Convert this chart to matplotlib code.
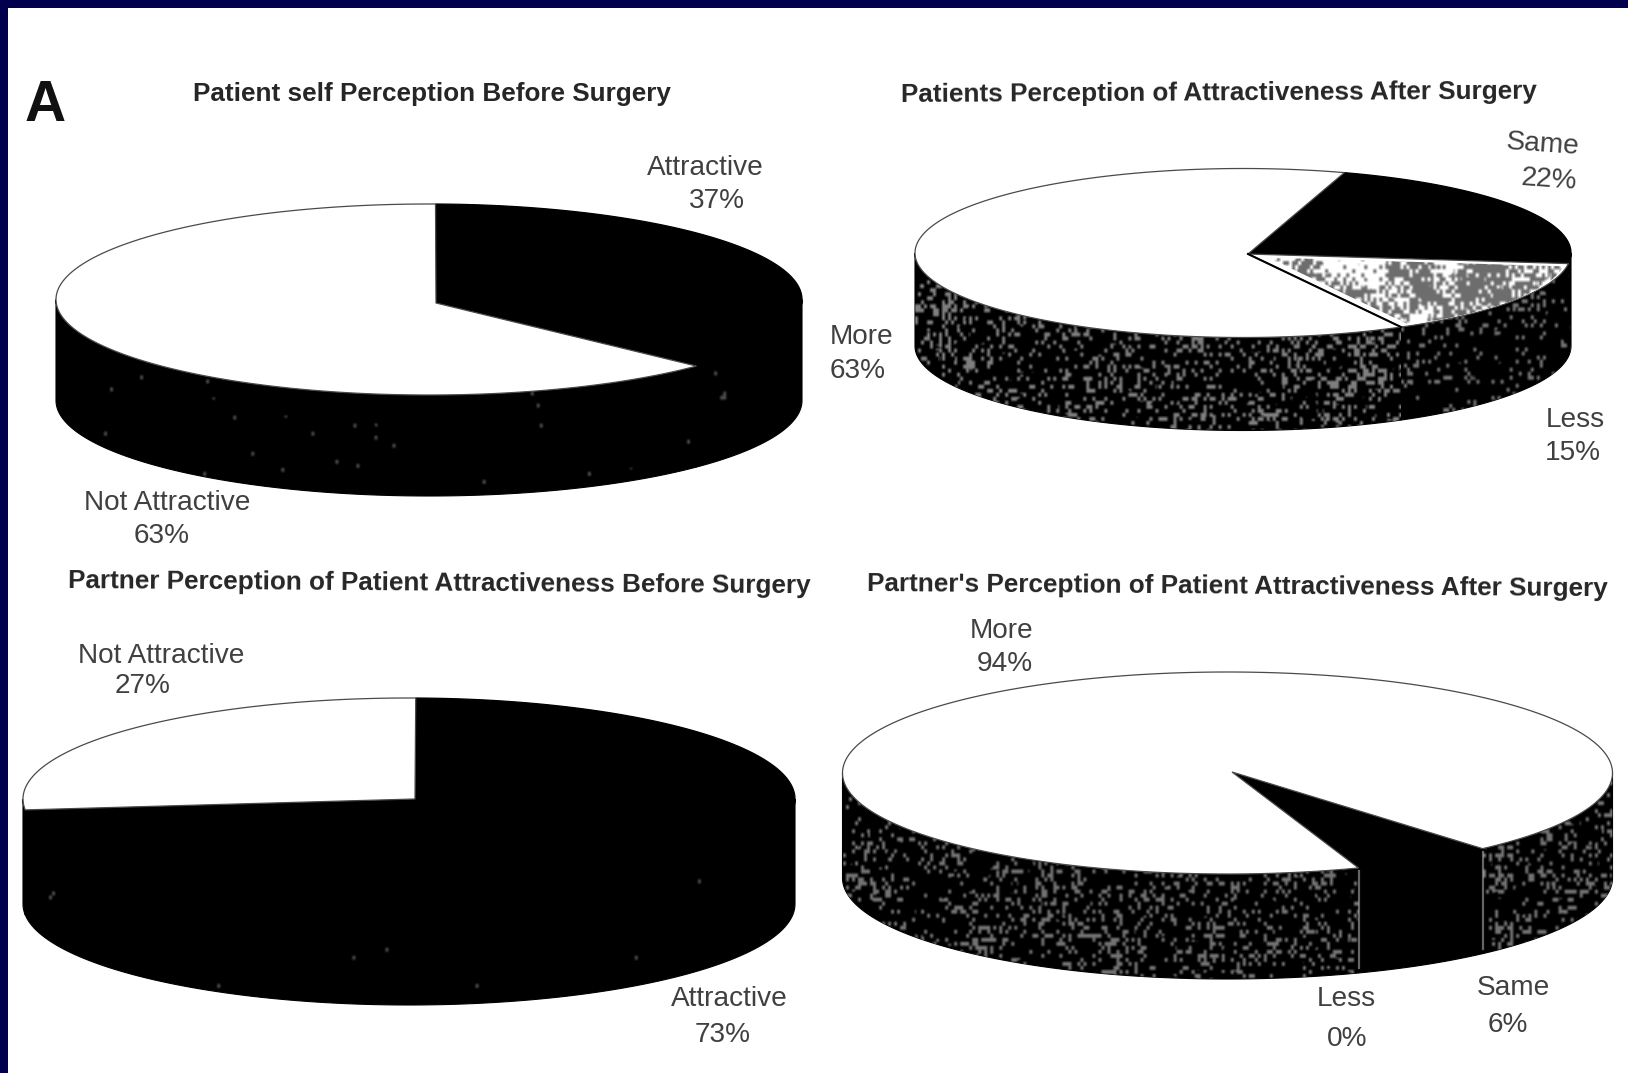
import numpy as np
import matplotlib
matplotlib.use('Agg')
import matplotlib.pyplot as plt
from matplotlib.colors import to_rgb
from matplotlib.patches import Polygon, Rectangle

plt.rcParams['font.family'] = ['Liberation Sans', 'DejaVu Sans']

# patient, before surgery
a_title = 'Patient self Perception Before Surgery'
a_names = ['Attractive', 'Not Attractive']
a_values = [37, 63]

# patient, after surgery
b_title = 'Patients Perception of Attractiveness After Surgery'
b_names = ['Same', 'Less', 'More']
b_values = [22, 15, 63]

# partner, before surgery
c_title = 'Partner Perception of Patient Attractiveness Before Surgery'
c_names = ['Attractive', 'Not Attractive']
c_values = [73, 27]

# partner, after surgery
d_title = "Partner's Perception of Patient Attractiveness After Surgery"
d_names = ['Same', 'Less', 'More']
d_values = [6, 0, 94]

INK = '#404040'
NAVY = '#00004d'

fig = plt.figure(figsize=(16.28, 10.73), dpi=100)
ax = fig.add_axes([0, 0, 1, 1])
ax.set_axis_off()


def rim(cx, cy, rx, ry, deg):
    # angle runs clockwise from the top of the pie
    a = np.radians(deg)
    return cx + rx*np.sin(a), cy - ry*np.cos(a)


def hash_noise(w, h, seed):
    yy, xx = np.mgrid[0:h, 0:w]
    n = np.sin(xx*12.9898 + yy*78.233 + seed)*43758.5453
    return n - np.floor(n)


def soften(img, n=3):
    k = np.ones(n)/n
    img = np.apply_along_axis(lambda r: np.convolve(r, k, mode='same')[:len(r)], 0, img)
    return np.apply_along_axis(lambda r: np.convolve(r, k, mode='same')[:len(r)], 1, img)


def speckle(patch, colour, density, strength, seed, cell=1.0):
    # patchy soft grain painted over a patch and clipped to it
    verts = patch.get_xy()
    x0, y0 = verts.min(axis=0)
    x1, y1 = verts.max(axis=0)
    w = max(int((x1 - x0)/cell), 30)
    h = max(int((y1 - y0)/cell), 30)
    # clumps of grain, stretched a little upright
    fine = np.kron(hash_noise(w//3 + 2, h//4 + 2, seed), np.ones((4, 3)))[:h, :w]
    patches = np.kron(hash_noise(w//24 + 2, h//24 + 2, seed + 1.7), np.ones((24, 24)))[:h, :w]
    patches = soften(patches, 17)
    local = density*(0.2 + 1.6*patches)
    alpha = soften((fine < local)*1.0, 3)*strength
    rgba = np.zeros((h, w, 4))
    rgba[..., :3] = to_rgb(colour)
    rgba[..., 3] = np.clip(alpha, 0, 1)
    im = ax.imshow(rgba, extent=(x0, x1, y1, y0), aspect='auto', interpolation='bilinear', zorder=patch.get_zorder() + 0.1)
    im.set_clip_path(patch)


def draw_pie(values, cx, cy, rx, ry, depth, start, tops, grains, tip):
    sweeps = np.array(values)/100*360
    edges = start + np.concatenate([[0], np.cumsum(sweeps)])
    for i, sweep in enumerate(sweeps):
        if sweep == 0:
            continue
        lo, hi = edges[i], edges[i + 1]
        # side wall, only the front half of the rim shows
        for shift in (-360, 0, 360):
            s0 = max(lo + shift, 90)
            s1 = min(hi + shift, 270)
            if s1 <= s0:
                continue
            t = np.linspace(s0, s1, 120)
            xs, ys = rim(cx, cy, rx, ry, t)
            pts = np.vstack([np.c_[xs, ys], np.c_[xs[::-1], ys[::-1] + depth]])
            wall = Polygon(pts, closed=True, fc='black', ec='black', lw=0.8, zorder=2)
            ax.add_patch(wall)
            density, strength = grains[i]
            if density > 0:
                speckle(wall, 'white', density, strength, 3.1*i + s0)
    for i, sweep in enumerate(sweeps):
        if sweep == 0:
            continue
        t = np.linspace(edges[i], edges[i + 1], 240)
        xs, ys = rim(cx, cy, rx, ry, t)
        pts = np.vstack([[tip], np.c_[xs, ys]])
        edge = 'black' if tops[i] == 'black' else '#4a4a4a'
        ax.add_patch(Polygon(pts, closed=True, fc=tops[i], ec=edge, lw=0.9, zorder=3))
    return edges


def label(x, y, name, value, rot=0):
    ax.text(x[0], y[0] + 2, name, ha='center', va='center', fontsize=20.2, color=INK, rotation=rot)
    ax.text(x[1], y[1] + 2, f'{value}%', ha='center', va='center', fontsize=20.2, color=INK, rotation=rot)


def title(x, y, text, rot=0):
    ax.text(x, y + 2, text, ha='center', va='center', fontsize=18.8, fontweight='bold', color='#262626', rotation=rot)


# border along the top and left of the panel
ax.add_patch(Rectangle((0, 0), 1628, 8, fc=NAVY, ec='none', zorder=10))
ax.add_patch(Rectangle((0, 0), 8, 1073, fc=NAVY, ec='none', zorder=10))

ax.text(45, 106, 'A', ha='center', va='center', fontsize=41, fontweight='bold', color='#111111')

# top left pie
title(432, 92, a_title)
draw_pie(a_values, 429, 299.5, 373, 95.5, 101, 1, ['black', 'white'], [(0.003, 0.3), (0.004, 0.3)], (436, 303))
label((705, 717), (166, 199), a_names[0], a_values[0])
label((167, 162), (501, 534), a_names[1], a_values[1])

# top right pie, the Less slice is stippled
b_tip = (1248, 254)
title(1219, 91, b_title, rot=0.3)
e = draw_pie(b_values, 1243, 253, 328, 84.5, 93, 18, ['black', 'white', 'white'], [(0.01, 0.4), (0.12, 0.45), (0.22, 0.5)], b_tip)
t = np.linspace(e[1], e[2], 80)
xs, ys = rim(1243, 253, 328, 84.5, t)
wedge = np.vstack([[b_tip], np.c_[xs, ys]])
# grain stops short of the slice edge
inner = wedge.mean(axis=0) + (wedge - wedge.mean(axis=0))*0.92
less_top = Polygon(inner, closed=True, fc='white', ec='none', zorder=3.2)
ax.add_patch(less_top)
speckle(less_top, '#3c3c3c', 0.55, 0.75, 7.7)
ax.plot(*zip(b_tip, rim(1243, 253, 328, 84.5, e[2])), color='black', lw=1.5, zorder=4)
label((1543, 1549), (143, 177.5), b_names[0], b_values[0], rot=-4)
label((1575, 1573), (418, 451.5), b_names[1], b_values[1])
label((862, 858), (335, 368.5), b_names[2], b_values[2])

# bottom left pie
title(439, 582, c_title, rot=-0.4)
draw_pie(c_values, 409, 799, 386, 101, 105, 1, ['black', 'white'], [(0.0015, 0.3), (0, 0)], (415, 799))
label((729, 722.5), (997.5, 1033), c_names[0], c_values[0])
label((161, 143), (654, 684), c_names[1], c_values[1])

# bottom right pie, the Same slice wall stays solid
title(1237, 584.5, d_title, rot=-0.4)
e = draw_pie(d_values, 1227.5, 773, 385, 101, 105, 138.5, ['black', 'white', 'white'], [(0, 0), (0, 0), (0.2, 0.45)], (1232, 772))
for deg in (e[0], e[1]):
    x, y = rim(1227.5, 773, 385, 101, deg)
    ax.plot([x, x], [y + 3, y + 100], color='white', lw=1.6, alpha=0.4, zorder=2.5)
label((1513, 1508), (986, 1022.5), d_names[0], d_values[0])
label((1346.5, 1347), (997.5, 1037), d_names[1], d_values[1])
label((1002, 1005), (629, 662), d_names[2], d_values[2])

ax.set_xlim(0, 1628)
ax.set_ylim(1073, 0)
fig.savefig('out.png', dpi=100, facecolor='white')
